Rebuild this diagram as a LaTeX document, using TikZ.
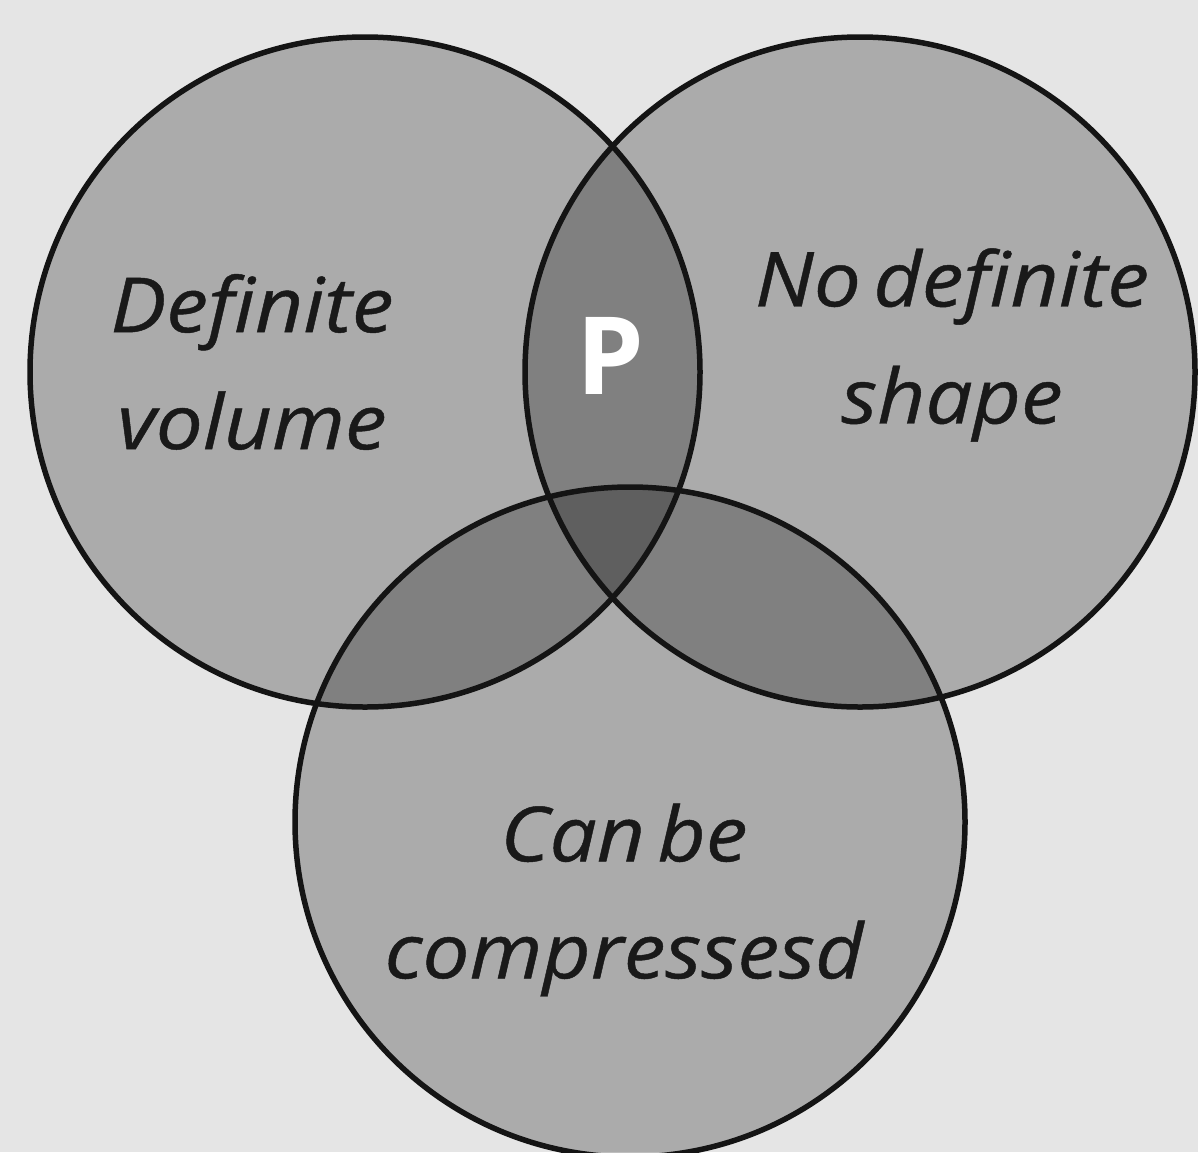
\documentclass[tikz,border=0pt]{standalone}
\usepackage{fontspec}
\setmainfont{Open Sans}
\newfontfamily\lblfont{Open Sans}[FakeStretch=1.1, FakeBold=0.6]
\begin{document}
\begin{tikzpicture}[x=1pt,y=-1pt,
  setfill/.style={circle, minimum size=670pt, inner sep=0pt, fill=black, fill opacity=0.25, draw=none},
  setline/.style={circle, minimum size=670pt, inner sep=0pt, draw=black!92, line width=5.5pt},
  lbl/.style={font=\lblfont\itshape\fontsize{76}{117}\selectfont, text=black!90, align=center, inner sep=0pt}]
  \useasboundingbox (0,0) rectangle (1198,1152);
  \fill[black!10] (0,0) rectangle (1198,1152);
  % set regions
  \node[setfill] (A) at (365,372) {};
  \node[setfill] (B) at (860,372) {};
  \node[setfill] (C) at (630,822) {};
  % outlines
  \node[setline] (Ao) at (A.center) {};
  \node[setline] (Bo) at (B.center) {};
  \node[setline] (Co) at (C.center) {};
  % labels
  \node[lbl] (la) at (252,362) {Definite\\volume};
  \node[lbl] (lb) at (952,345) {No\hspace{-0.12em} definite\\shape};
  \node[lbl] (lc) at (624,900) {Can\hspace{-0.12em} be\\compressesd};
  \node[font=\bfseries\fontsize{108}{110}\selectfont, text=white, inner sep=0pt] (p) at (610,356) {P};
\end{tikzpicture}
\end{document}
